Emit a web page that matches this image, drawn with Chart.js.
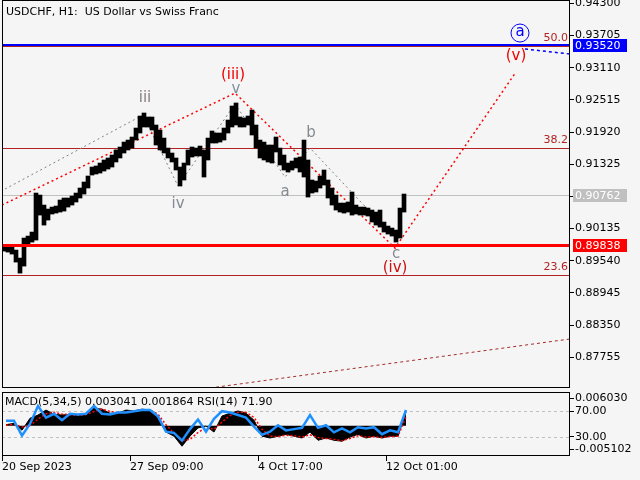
<!DOCTYPE html>
<html>
<head>
<meta charset="utf-8">
<script src="https://cdn.jsdelivr.net/npm/chart.js@4.4.1/dist/chart.umd.min.js"></script>
<style>
    html, body { margin: 0; padding: 0; background: #f5f5f5; }
    #wrap { position: relative; width: 640px; height: 480px; overflow: hidden; }
    #priceChart { position: absolute; left: 0; top: 0; }
    #oscChart { position: absolute; left: 0; top: 390px; }
</style>
</head>
<body>
<div id="wrap">
    <canvas id="priceChart" width="640" height="390"></canvas>
    <canvas id="oscChart" width="640" height="90"></canvas>
</div>
<script>
// ---- data ----
const TITLE = 'USDCHF, H1:  US Dollar vs Swiss Franc';
const OSC_TITLE = 'MACD(5,34,5) 0.003041 0.001864 RSI(14) 71.90';

// time axis (hours from the first bar)
const timeTickHours = [0, 128, 256, 384];
const timeLabels = ['20 Sep 2023', '27 Sep 09:00', '4 Oct 17:00', '12 Oct 01:00'];
const BAR_HOURS = 4;   // each drawn bar groups 4 hourly bars
const OSC_HOURS = 8;   // oscillator sampled every 8 hours

const priceTicks = [0.94300, 0.93705, 0.93110, 0.92515, 0.91920, 0.91325, 0.90730,
                    0.90135, 0.89540, 0.88945, 0.88350, 0.87755];

const priceHigh = [
    0.89812, 0.89793, 0.89830, 0.89738, 0.89590, 0.89960, 0.89997, 0.90071, 0.90792, 0.90755,
    0.90570, 0.90496, 0.90533, 0.90552, 0.90663, 0.90700, 0.90700, 0.90737, 0.90792, 0.90885,
    0.90996, 0.91107, 0.91273, 0.91292, 0.91347, 0.91403, 0.91440, 0.91495, 0.91588, 0.91643,
    0.91735, 0.91772, 0.91828, 0.91994, 0.92216, 0.92272, 0.92198, 0.92198, 0.92050, 0.91957,
    0.91809, 0.91624, 0.91532, 0.91440, 0.91273, 0.91347, 0.91588, 0.91643, 0.91624, 0.91661,
    0.91588, 0.91809, 0.91939, 0.91902, 0.91902, 0.91994, 0.92142, 0.92401, 0.92457, 0.92198,
    0.92179, 0.92216, 0.92327, 0.92050, 0.91772, 0.91735, 0.91680, 0.91680, 0.91828, 0.91624,
    0.91495, 0.91347, 0.91384, 0.91440, 0.91458, 0.91772, 0.91403, 0.91033, 0.91014, 0.91107,
    0.91218, 0.91033, 0.90885, 0.90755, 0.90607, 0.90607, 0.90626, 0.90811, 0.90570, 0.90533,
    0.90533, 0.90515, 0.90478, 0.90441, 0.90478, 0.90256, 0.90182, 0.90145, 0.90108, 0.90515,
    0.90774
];
const priceLow = [
    0.89719, 0.89701, 0.89664, 0.89516, 0.89312, 0.89442, 0.89830, 0.89886, 0.89923, 0.90385,
    0.90200, 0.90293, 0.90404, 0.90422, 0.90441, 0.90459, 0.90533, 0.90570, 0.90626, 0.90700,
    0.90774, 0.90885, 0.91125, 0.91144, 0.91162, 0.91199, 0.91236, 0.91273, 0.91366, 0.91440,
    0.91532, 0.91588, 0.91624, 0.91772, 0.91902, 0.92013, 0.92013, 0.91957, 0.91680, 0.91588,
    0.91532, 0.91440, 0.91366, 0.91218, 0.90922, 0.91033, 0.91310, 0.91458, 0.91477, 0.91477,
    0.91088, 0.91403, 0.91717, 0.91717, 0.91735, 0.91772, 0.91902, 0.92013, 0.92050, 0.92013,
    0.92013, 0.92050, 0.91865, 0.91624, 0.91440, 0.91403, 0.91366, 0.91347, 0.91551, 0.91310,
    0.91218, 0.91181, 0.91218, 0.91255, 0.91181, 0.91088, 0.90718, 0.90792, 0.90811, 0.90885,
    0.90940, 0.90700, 0.90570, 0.90478, 0.90441, 0.90422, 0.90441, 0.90385, 0.90404, 0.90385,
    0.90385, 0.90367, 0.90256, 0.90200, 0.90163, 0.90071, 0.90034, 0.89997, 0.89886, 0.89960,
    0.90441
];

// horizontal levels: target, last price, support
const levelPrices = [0.93520, 0.90762, 0.89838];
const fibNames = ['50.0', '38.2', '23.6'];
const fibPrices = [0.93515, 0.91625, 0.89277];

// wave marks
const waveText = ['(iii)', 'v', 'iii', 'iv', 'a', 'b', 'c', '(iv)', '(v)', 'a'];
const waveHour = [231, 234, 143, 176, 283, 309, 394, 393, 514, 518];
const wavePrice = [0.92974, 0.92716, 0.92549, 0.90589, 0.90811, 0.91902, 0.89665, 0.89406, 0.93326, 0.93769];

// drawn lines [hour, price]
const greyWavePath = [[3, 0.90866], [141, 0.92235], [176, 0.90922], [233, 0.92438],
                      [283, 0.91088], [308, 0.91624], [391, 0.89997]];
const redWavePath = [[0, 0.90570], [233, 0.92641], [393, 0.89775], [514, 0.93030]];
const blueWavePath = [[523, 0.93455], [568, 0.93363]];
const trendPath = [[208, 0.87188], [568, 0.88094]];

// oscillators
const macdHist = [
    0.0002, 0.0005, -0.0010, 0.0016, 0.0023, 0.0034, 0.0025, 0.0023, 0.0025, 0.0021,
    0.0027, 0.0038, 0.0036, 0.0027, 0.0027, 0.0034, 0.0032, 0.0036, 0.0034, 0.0016,
    -0.0014, -0.0023, -0.0045, -0.0023, -0.0005, -0.0001, -0.0014, 0.0021, 0.0027, 0.0032,
    0.0027, 0.0012, -0.0023, -0.0027, -0.0023, -0.0019, -0.0023, -0.0027, -0.0014, -0.0032,
    -0.0027, -0.0032, -0.0034, -0.0025, -0.0019, -0.0027, -0.0023, -0.0027, -0.0023, -0.0023,
    0.0030
];
const macdSignal = [
    0.0001, 0.0003, -0.0003, 0.0000, 0.0014, 0.0026, 0.0029, 0.0025, 0.0024, 0.0023,
    0.0024, 0.0031, 0.0036, 0.0031, 0.0028, 0.0030, 0.0032, 0.0034, 0.0034, 0.0025,
    0.0002, -0.0017, -0.0032, -0.0030, -0.0015, -0.0004, -0.0008, 0.0008, 0.0022, 0.0029,
    0.0029, 0.0018, -0.0008, -0.0023, -0.0024, -0.0021, -0.0022, -0.0025, -0.0020, -0.0026,
    -0.0028, -0.0030, -0.0033, -0.0028, -0.0022, -0.0025, -0.0024, -0.0026, -0.0024, -0.0023,
    0.0019
];
const rsiValues = [
    55, 55, 32, 50, 78, 60, 66, 56, 66, 65,
    66, 78, 66, 65, 68, 68, 70, 72, 72, 62,
    38, 36, 24, 42, 57, 38, 58, 70, 68, 64,
    60, 46, 33, 38, 48, 40, 42, 44, 64, 44,
    48, 37, 43, 37, 45, 43, 45, 34, 40, 37,
    71.9
];
const macdExtremes = [0.006030, -0.005102];
const rsiLevels = [70, 30];

// ---- chart setup ----
const FONT = '"DejaVu Sans", sans-serif';
Chart.defaults.font.family = FONT;
Chart.defaults.font.size = 11;
Chart.defaults.color = '#000';

const toPoints = path => path.map(p => ({ x: p[0], y: p[1] }));

const priceBars = priceHigh.map((h, i) => ({
    x: i * BAR_HOURS + BAR_HOURS / 2,
    y: [priceLow[i], h]
}));

function hline(ctx, area, py, color, width, dash) {
    ctx.save();
    ctx.strokeStyle = color;
    ctx.lineWidth = width;
    ctx.setLineDash(dash || []);
    const yy = width % 2 === 1 ? Math.round(py) + 0.5 : Math.round(py);
    ctx.beginPath();
    ctx.moveTo(area.left, yy);
    ctx.lineTo(area.right, yy);
    ctx.stroke();
    ctx.restore();
}

// keep the side axes from adding label padding to the plot
function fitSide(s) {
    s.width = 70;
    s.paddingTop = 0;
    s.paddingBottom = 0;
}

const waveColors = ['#f00000', '#8090a0', '#8a8080', '#858a90', '#858a90',
                    '#858a90', '#858a90', '#cc1111', '#f00000', '#0000ff'];
const tagColors = ['#0000ff', '#c0c0c0', '#ff0000'];

const mainOverlay = {
    id: 'mainOverlay',
    beforeDatasetsDraw(chart) {
        const { ctx, chartArea: a, scales: { y } } = chart;
        hline(ctx, a, y.getPixelForValue(levelPrices[1]), '#c0c0c0', 1);
        fibPrices.forEach(p => hline(ctx, a, y.getPixelForValue(p), '#b22222', 1));
    },
    afterDraw(chart) {
        const { ctx, chartArea: a, scales: { x, y } } = chart;
        // strong levels on top of the bars
        hline(ctx, a, y.getPixelForValue(levelPrices[2]), '#ff0000', 3);
        hline(ctx, a, y.getPixelForValue(levelPrices[0]), '#0000ff', 2);

        ctx.save();
        ctx.strokeStyle = '#000';
        ctx.lineWidth = 1;
        ctx.strokeRect(a.left + 0.5, a.top + 0.5, a.width - 1, a.height - 1);

        // fib labels
        ctx.font = '11px ' + FONT;
        ctx.fillStyle = '#b22222';
        ctx.textAlign = 'right';
        ctx.textBaseline = 'bottom';
        fibPrices.forEach((p, i) => ctx.fillText(fibNames[i], a.right - 2, y.getPixelForValue(p) - 2));

        // wave labels
        ctx.font = '15px ' + FONT;
        ctx.textAlign = 'center';
        ctx.textBaseline = 'middle';
        waveText.forEach((t, i) => {
            const px = x.getPixelForValue(waveHour[i]);
            const py = y.getPixelForValue(wavePrice[i]);
            ctx.fillStyle = waveColors[i];
            ctx.fillText(t, px, py);
            if (i === waveText.length - 1) {
                ctx.strokeStyle = waveColors[i];
                ctx.lineWidth = 1;
                ctx.beginPath();
                ctx.arc(px, py + 1, 9, 0, Math.PI * 2);
                ctx.stroke();
            }
        });

        // price tags on the axis
        ctx.font = '11px ' + FONT;
        ctx.textAlign = 'left';
        levelPrices.forEach((p, i) => {
            const py = Math.round(y.getPixelForValue(p));
            ctx.fillStyle = tagColors[i];
            ctx.fillRect(a.right + 3, py - 6, 54, 13);
            ctx.fillStyle = '#fff';
            ctx.fillText(p.toFixed(5), a.right + 5, py + 1);
        });

        // title
        ctx.fillStyle = '#000';
        ctx.fillText(TITLE, 6, 12);
        ctx.restore();
    }
};

new Chart(document.getElementById('priceChart'), {
    type: 'bar',
    data: {
        datasets: [
            {
                type: 'bar',
                data: priceBars,
                backgroundColor: '#000',
                borderWidth: 0,
                barThickness: 4,
                order: 0
            },
            {
                type: 'line',
                data: toPoints(redWavePath),
                borderColor: '#ff0000',
                borderWidth: 1.5,
                borderDash: [2, 3],
                pointRadius: 0,
                order: 1
            },
            {
                type: 'line',
                data: toPoints(greyWavePath),
                borderColor: '#808080',
                borderWidth: 1,
                borderDash: [2, 3],
                pointRadius: 0,
                order: 2
            },
            {
                type: 'line',
                data: toPoints(blueWavePath),
                borderColor: '#0000ff',
                borderWidth: 1.5,
                borderDash: [3, 3],
                pointRadius: 0,
                order: 3
            },
            {
                type: 'line',
                data: toPoints(trendPath),
                borderColor: '#a52a2a',
                borderWidth: 1,
                borderDash: [3, 3],
                pointRadius: 0,
                order: 4
            }
        ]
    },
    options: {
        responsive: false,
        animation: false,
        events: [],
        layout: { padding: { left: 2, top: 0, right: 0, bottom: 2 } },
        plugins: { legend: { display: false }, tooltip: { enabled: false } },
        scales: {
            x: {
                type: 'linear',
                min: 0,
                max: 568,
                offset: false,
                display: false
            },
            y: {
                position: 'right',
                min: 0.87188,
                max: 0.94361,
                afterBuildTicks: s => { s.ticks = priceTicks.map(v => ({ value: v })); },
                afterFit: fitSide,
                grid: { drawOnChartArea: false, drawTicks: true, tickLength: 4, tickColor: '#000' },
                border: { display: false },
                ticks: {
                    autoSkip: false,
                    padding: 1,
                    color: '#000',
                    callback: v => v.toFixed(5)
                }
            }
        }
    },
    plugins: [mainOverlay]
});

// ---- oscillator window ----
const oscX = i => i * OSC_HOURS + OSC_HOURS / 2;

const oscOverlay = {
    id: 'oscOverlay',
    beforeDatasetsDraw(chart) {
        const { ctx, chartArea: a, scales: { rsi } } = chart;
        rsiLevels.forEach(v => hline(ctx, a, rsi.getPixelForValue(v), '#c0c0c0', 1, [3, 3]));
    },
    afterDraw(chart) {
        const { ctx, chartArea: a, scales: { macd } } = chart;
        ctx.save();
        ctx.strokeStyle = '#000';
        ctx.lineWidth = 1;
        ctx.strokeRect(a.left + 0.5, a.top + 0.5, a.width - 1, a.height - 1);
        ctx.font = '11px ' + FONT;
        ctx.fillStyle = '#000';
        ctx.textAlign = 'left';
        ctx.textBaseline = 'middle';
        macdExtremes.forEach(v => {
            const py = Math.round(macd.getPixelForValue(v)) + 0.5;
            ctx.beginPath();
            ctx.moveTo(a.right, py);
            ctx.lineTo(a.right + 4, py);
            ctx.stroke();
            ctx.fillText(v.toFixed(6), a.right + 5, py);
        });
        ctx.fillText(OSC_TITLE, 5, a.top + 10);
        ctx.restore();
    }
};

new Chart(document.getElementById('oscChart'), {
    type: 'line',
    data: {
        datasets: [
            {
                data: rsiValues.map((v, i) => ({ x: oscX(i), y: v })),
                yAxisID: 'rsi',
                borderColor: '#1e90ff',
                borderWidth: 2.5,
                pointRadius: 0,
                order: 0
            },
            {
                data: macdSignal.map((v, i) => ({ x: oscX(i), y: v })),
                yAxisID: 'macd',
                borderColor: '#ff0000',
                borderWidth: 1.5,
                borderDash: [2, 2],
                pointRadius: 0,
                order: 1
            },
            {
                data: macdHist.map((v, i) => ({ x: oscX(i), y: v })),
                yAxisID: 'macd',
                borderColor: '#000',
                backgroundColor: '#000',
                borderWidth: 1,
                fill: 'origin',
                pointRadius: 0,
                order: 2
            }
        ]
    },
    options: {
        responsive: false,
        animation: false,
        events: [],
        layout: { padding: { left: 2, top: 2, right: 0, bottom: 0 } },
        plugins: { legend: { display: false }, tooltip: { enabled: false } },
        scales: {
            x: {
                type: 'linear',
                min: 0,
                max: 568,
                offset: false,
                afterBuildTicks: s => { s.ticks = timeTickHours.map(v => ({ value: v })); },
                afterFit: s => { s.height = 24; s.paddingLeft = 0; s.paddingRight = 0; },
                grid: { drawOnChartArea: false, drawTicks: true, tickLength: 5, tickColor: '#000' },
                border: { display: false },
                ticks: {
                    autoSkip: false,
                    maxRotation: 0,
                    align: 'start',
                    padding: 0,
                    color: '#000',
                    callback: v => timeLabels[timeTickHours.indexOf(v)]
                }
            },
            rsi: {
                position: 'right',
                min: 0,
                max: 100,
                afterBuildTicks: s => { s.ticks = rsiLevels.map(v => ({ value: v })); },
                afterFit: fitSide,
                grid: { drawOnChartArea: false, drawTicks: true, tickLength: 4, tickColor: '#000' },
                border: { display: false },
                ticks: { autoSkip: false, padding: 1, color: '#000', callback: v => v.toFixed(2) }
            },
            macd: {
                display: false,
                min: -0.00663,
                max: 0.00734
            }
        }
    },
    plugins: [oscOverlay]
});
</script>
</body>
</html>
